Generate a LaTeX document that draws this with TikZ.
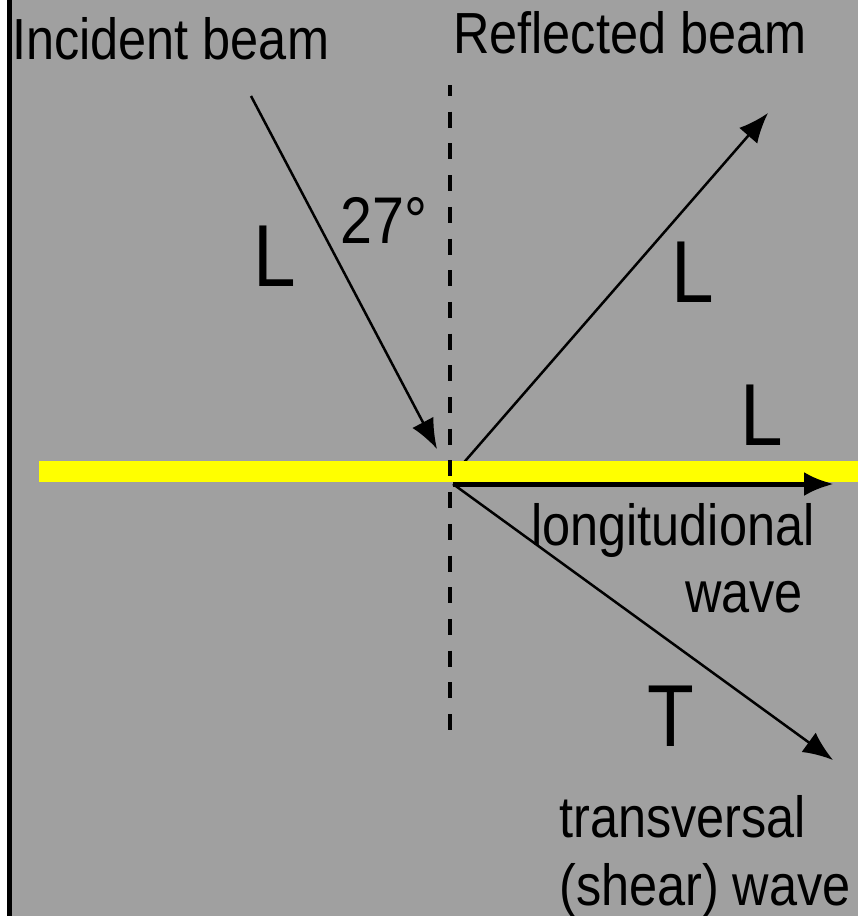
\documentclass[tikz,border=0pt]{standalone}
\usepackage{fontspec}
\newfontfamily\lblfont[FakeStretch=0.87]{Liberation Sans}
\usetikzlibrary{arrows.meta}
\definecolor{panel}{HTML}{A0A0A0}
\definecolor{layer}{HTML}{FFFF00}
\tikzset{
  >=Latex,
  beam/.style={-{Latex[length=30pt,width=24pt]},line width=2.5pt},
  normal/.style={line width=4.5pt,dash pattern=on 16pt off 15.7pt,dash phase=5pt},
  caption/.style={anchor=base west,inner sep=0pt,font=\lblfont\fontsize{58}{60}\selectfont},
  wavetype/.style={anchor=base west,inner sep=0pt,font=\lblfont\fontsize{88}{90}\selectfont},
  anglelbl/.style={anchor=base west,inner sep=0pt,font=\lblfont\fontsize{66}{68}\selectfont}
}
\begin{document}
\begin{tikzpicture}[x=1pt,y=-1pt]
    \useasboundingbox (0,0) rectangle (858,916);
    \fill[black] (7,0) rectangle (12,916);
    \fill[panel] (12,0) rectangle (858,916);

    % beam end points
    \coordinate (src) at (251,96);
    \coordinate (hit) at (437,449);
    \coordinate (refl) at (453,475);
    \coordinate (o) at (453,484);
    \coordinate (rtip) at (768,113);
    \coordinate (ltip) at (834,484);
    \coordinate (ttip) at (833,760);
    \coordinate (ntop) at (450,85);
    \coordinate (nbot) at (450,730);

    \draw[beam] (refl) -- (rtip);
    \fill[layer] (39,461) rectangle (858,482);
    \draw[normal] (ntop) -- (nbot);
    \draw[beam] (src) -- (hit);
    \draw[beam,line width=5pt] (o) -- (ltip);
    \draw[beam] (o) -- (ttip);

    \node[caption] (inc) at (12,59) {Incident beam};
    \node[caption] (ref) at (453,53) {Reflected beam};
    \node[anglelbl] (ang) at (340,243) {27°};
    \foreach \x/\y/\txt/\id in {253/286/L/la,671/302/L/lb,740/445/L/lc,647/746/T/t}
        \node[wavetype] (\id) at (\x,\y) {\txt};
    \node[caption] (lon) at (531,545) {longitudional};
    \node[caption] (lonw) at (685,612) {wave};
    \node[caption] (tra) at (559,837) {transversal};
    \node[caption] (traw) at (559,905) {(shear) wave};
\end{tikzpicture}
\end{document}
